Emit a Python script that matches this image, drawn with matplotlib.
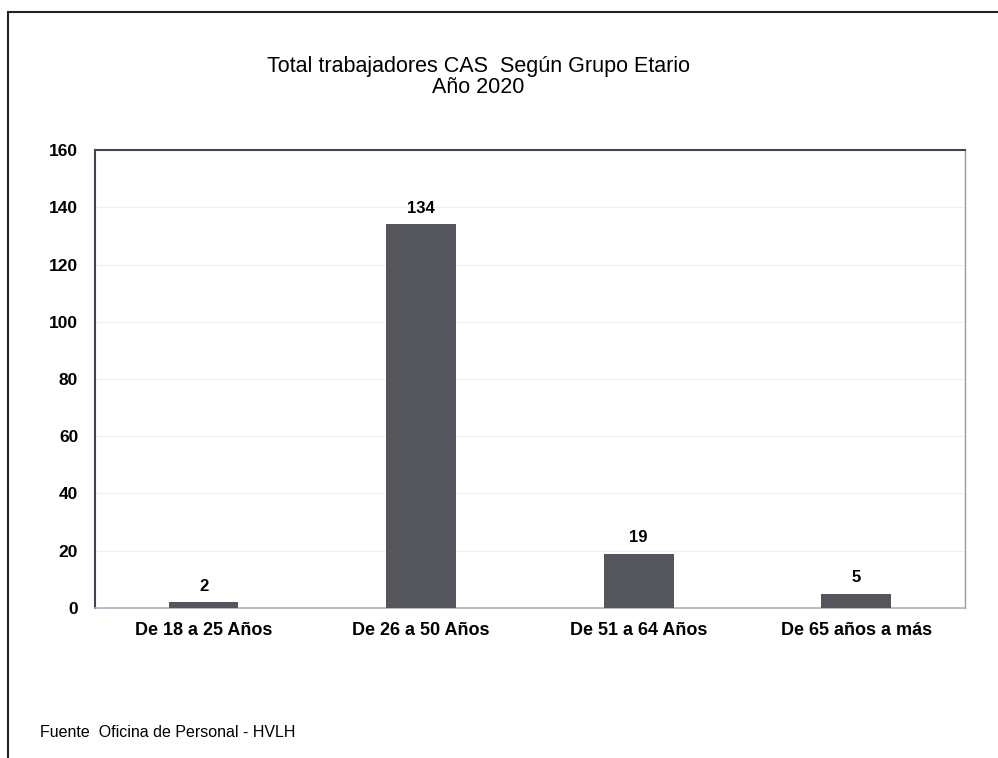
import matplotlib.pyplot as plt
from matplotlib.patches import Rectangle

plt.rcParams['font.family'] = ['Liberation Sans', 'DejaVu Sans']

categories = ["De 18 a 25 Años", "De 26 a 50 Años", "De 51 a 64 Años", "De 65 años a más"]
values = [2, 134, 19, 5]

fig = plt.figure(figsize=(9.98, 7.58), dpi=100)
ax = fig.add_axes([0.095, 0.198, 0.872, 0.604])

# outer frame of the scanned page
fig.patches.append(Rectangle((0.008, -0.1), 1.1, 1.084, transform=fig.transFigure,
                             fill=False, edgecolor="#222222", linewidth=1.5))

x = range(len(categories))
bars = ax.bar(x, values, width=0.32, color="#55555c", zorder=3)
for i, v in enumerate(values):
    ax.text(i, v + 3, str(v), ha="center", va="bottom", fontsize=12, fontweight="bold")

ax.set_xlim(-0.5, 3.5)
ax.set_ylim(0, 160)
ax.set_yticks(range(0, 161, 20))
ax.set_xticks(list(x))
ax.set_xticklabels(categories, fontsize=13, fontweight="bold")
ax.tick_params(axis="y", labelsize=12.5, length=0, pad=12)
ax.tick_params(axis="x", length=0, pad=10)
for lbl in ax.get_yticklabels():
    lbl.set_fontweight("bold")
ax.grid(axis="y", color="#f0f0f0", linewidth=0.8, zorder=0)

ax.spines["left"].set_color("#444455")
ax.spines["left"].set_linewidth(1.5)
ax.spines["top"].set_color("#444455")
ax.spines["top"].set_linewidth(1.5)
ax.spines["right"].set_color("#999999")
ax.spines["right"].set_linewidth(1.0)
ax.spines["bottom"].set_color("#b0b0c0")
ax.spines["bottom"].set_linewidth(1.2)

fig.text(0.479, 0.899, "Total trabajadores CAS  Según Grupo Etario\nAño 2020",
         ha="center", va="center", fontsize=15.5, linespacing=1.0)
fig.text(0.04, 0.033, "Fuente  Oficina de Personal - HVLH", fontsize=11.5, va="center")

fig.savefig("out.png", dpi=100)
